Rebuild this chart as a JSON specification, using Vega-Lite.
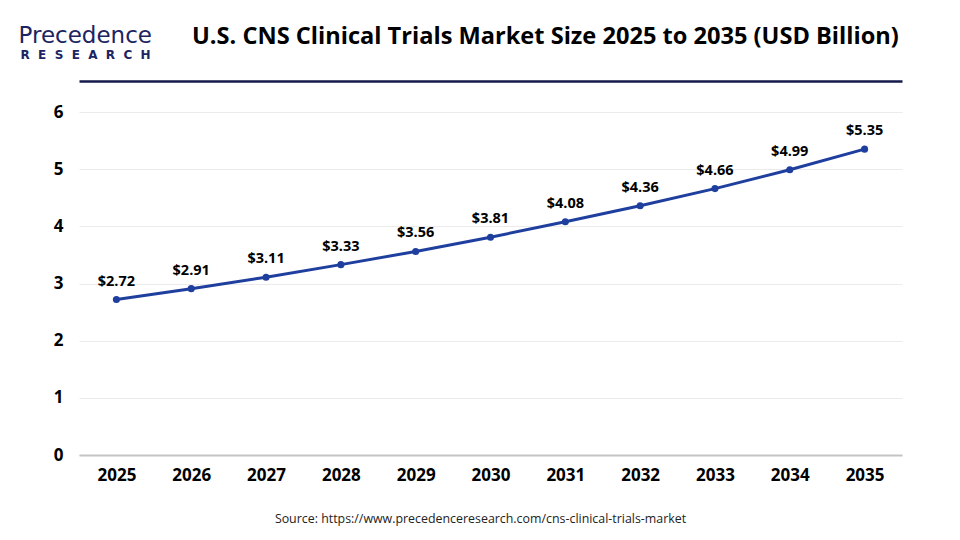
{
  "$schema": "https://vega.github.io/schema/vega-lite/v6.json",
  "width": 823,
  "height": 343,
  "autosize": {"type": "none"},
  "padding": {"left": 79, "top": 112, "right": 58, "bottom": 85},
  "background": "white",
  "config": {"view": {"stroke": null}, "font": "Open Sans"},
  "title": {
    "text": "U.S. CNS Clinical Trials Market Size 2025 to 2035 (USD Billion)",
    "anchor": "start",
    "dx": 174,
    "dy": 47,
    "fontSize": 23.6,
    "font": "Open Sans",
    "fontWeight": "bold",
    "color": "#000000",
    "offset": 22
  },
  "data": {
    "values": [
      {"year": "2025", "value": 2.72},
      {"year": "2026", "value": 2.91},
      {"year": "2027", "value": 3.11},
      {"year": "2028", "value": 3.33},
      {"year": "2029", "value": 3.56},
      {"year": "2030", "value": 3.81},
      {"year": "2031", "value": 4.08},
      {"year": "2032", "value": 4.36},
      {"year": "2033", "value": 4.66},
      {"year": "2034", "value": 4.99},
      {"year": "2035", "value": 5.35}
    ]
  },
  "layer": [
    {
      "mark": {
        "type": "line",
        "color": "#1f3f9f",
        "strokeWidth": 3,
        "point": {"filled": true, "size": 50, "color": "#1f3f9f"}
      },
      "encoding": {
        "x": {
          "field": "year",
          "type": "ordinal",
          "scale": {"type": "point", "padding": 0.5},
          "axis": {
            "orient": "bottom",
            "labelAngle": 0,
            "labelFont": "Open Sans",
            "labelFontSize": 17,
            "labelFontWeight": "bold",
            "labelColor": "#000000",
            "labelPadding": 12,
            "ticks": false,
            "domainColor": "#c4c4c4",
            "domainWidth": 2,
            "grid": false,
            "title": "Source: https://www.precedenceresearch.com/cns-clinical-trials-market",
            "titleFont": "Open Sans",
            "titleFontSize": 12.4,
            "titleFontWeight": "normal",
            "titleColor": "#222222",
            "titlePadding": 29,
            "titleX": 401
          }
        },
        "y": {
          "field": "value",
          "type": "quantitative",
          "scale": {"domain": [0, 6]},
          "axis": {
            "orient": "left",
            "values": [0, 1, 2, 3, 4, 5, 6],
            "labelFont": "Open Sans",
            "labelFontSize": 17,
            "labelFontWeight": "bold",
            "labelColor": "#000000",
            "labelPadding": 16,
            "ticks": false,
            "domain": false,
            "grid": true,
            "gridColor": "#ebebeb",
            "gridWidth": 1,
            "title": "Precedence",
            "titleAngle": 0,
            "titleAlign": "left",
            "titleBaseline": "alphabetic",
            "titleX": -61,
            "titleY": -70,
            "titleFont": "DejaVu Sans",
            "titleFontSize": 23,
            "titleFontWeight": "normal",
            "titleColor": "#1c2461"
          }
        }
      }
    },
    {
      "mark": {
        "type": "text",
        "dy": -18,
        "fontWeight": "bold",
        "fontSize": 14.5,
        "font": "Open Sans",
        "color": "#000000"
      },
      "encoding": {
        "x": {
          "field": "year",
          "type": "ordinal",
          "scale": {"type": "point", "padding": 0.5},
          "axis": {
            "orient": "top",
            "labels": false,
            "ticks": false,
            "grid": false,
            "offset": 31,
            "domainColor": "#141a4a",
            "domainWidth": 2.5,
            "title": null
          }
        },
        "y": {
          "field": "value",
          "type": "quantitative",
          "scale": {"domain": [0, 6]},
          "axis": {
            "orient": "left",
            "labels": false,
            "ticks": false,
            "domain": false,
            "grid": false,
            "title": "R\u00a0 E\u00a0 S\u00a0 E\u00a0 A\u00a0 R\u00a0 C\u00a0 H",
            "titleAngle": 0,
            "titleAlign": "left",
            "titleBaseline": "alphabetic",
            "titleX": -59,
            "titleY": -54,
            "titleFont": "DejaVu Sans",
            "titleFontSize": 12,
            "titleFontWeight": "bold",
            "titleColor": "#1c2461"
          }
        },
        "text": {"field": "value", "type": "quantitative", "format": "$.2f"}
      }
    }
  ],
  "resolve": {"axis": {"x": "independent", "y": "independent"}}
}
